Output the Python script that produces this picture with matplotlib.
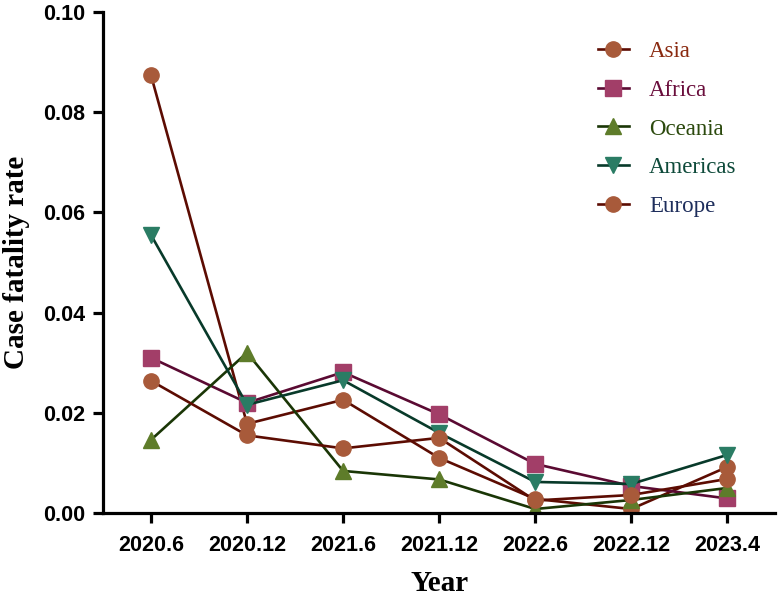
import matplotlib
matplotlib.use("Agg")
import matplotlib.pyplot as plt

periods = ["2020.6", "2020.12", "2021.6", "2021.12", "2022.6", "2022.12", "2023.4"]

asia = [0.0874, 0.0178, 0.0226, 0.0110, 0.0028, 0.0008, 0.0092]
africa = [0.0310, 0.0220, 0.0281, 0.0197, 0.0098, 0.0054, 0.0029]
oceania = [0.0146, 0.0320, 0.0084, 0.0067, 0.0008, 0.0026, 0.0050]
americas = [0.0555, 0.0216, 0.0265, 0.0160, 0.0062, 0.0058, 0.0116]
europe = [0.0264, 0.0155, 0.0129, 0.0150, 0.0025, 0.0036, 0.0068]

series = [
    ("Asia", asia, "o", "#5c0c02", "#a85a3a", "#8a2a10"),
    ("Africa", africa, "s", "#5a0a32", "#a23e68", "#6a0e3c"),
    ("Oceania", oceania, "^", "#1a3606", "#5e7c2a", "#2c4a0e"),
    ("Americas", americas, "v", "#083a2a", "#2a7c64", "#0e4a3a"),
    ("Europe", europe, "o", "#5c0c02", "#a85a3a", "#1e2e5c"),
]

fig = plt.figure(figsize=(7.8, 6.01), dpi=100)
ax = fig.add_axes([0.132, 0.1464, 0.862, 0.8336])

x = list(range(len(periods)))
for name, vals, mk, lc, mc, tc in series:
    ax.plot(x, vals, color=lc, lw=1.9, marker=mk, markersize=11,
            markerfacecolor=mc, markeredgecolor=mc, label=name)

ax.set_xlim(-0.5, 6.5)
ax.set_ylim(0, 0.10)
ax.set_yticks([0, 0.02, 0.04, 0.06, 0.08, 0.10])
ax.set_yticklabels(["0.00", "0.02", "0.04", "0.06", "0.08", "0.10"])
ax.set_xticks(x)
ax.set_xticklabels(periods)

for s in ["top", "right"]:
    ax.spines[s].set_visible(False)
for s in ["left", "bottom"]:
    ax.spines[s].set_linewidth(2.3)
ax.tick_params(width=2.3, length=7, labelsize=15.5)
ax.tick_params(axis="x", pad=9)
ax.tick_params(axis="y", pad=6)
for lab in ax.get_xticklabels() + ax.get_yticklabels():
    lab.set_fontfamily("Liberation Sans")
    lab.set_fontweight("bold")

ax.set_xlabel("Year", fontfamily="Liberation Serif", fontweight="bold",
              fontsize=21, labelpad=10)
ax.set_ylabel("Case fatality rate", fontfamily="Liberation Serif",
              fontweight="bold", fontsize=21, labelpad=9)

leg = ax.legend(loc="upper left", bbox_to_anchor=(577 / 780, 1 - 20 / 601),
                bbox_transform=fig.transFigure, frameon=False,
                prop={"family": "Liberation Serif", "size": 16.5},
                handlelength=1.35, handletextpad=0.9, labelspacing=0.78,
                labelcolor=[s[5] for s in series])

fig.savefig("out.png", dpi=100)
